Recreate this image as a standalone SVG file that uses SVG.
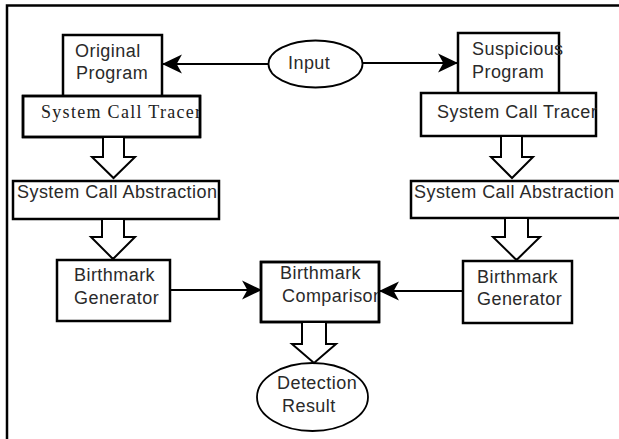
<svg xmlns="http://www.w3.org/2000/svg" width="619" height="439" viewBox="0 0 619 439">
  <style>
    .box { fill: #fff; stroke: #000; stroke-width: 2.5; }
    .oval { fill: #fff; stroke: #000; stroke-width: 1.8; }
    .lbl { font-family: "Liberation Sans", Arial, sans-serif; font-size: 18px; fill: #2a2a2a; letter-spacing: 0.45px; }
    .serif { font-family: "Liberation Serif", "Times New Roman", serif; font-size: 18px; fill: #222; letter-spacing: 1.3px; }
    .link { fill: none; stroke: #000; stroke-width: 1.8; }
    .flow { fill: #fff; stroke: #000; stroke-width: 2; stroke-linejoin: miter; }
  </style>
  <defs>
    <marker id="head" markerUnits="userSpaceOnUse" markerWidth="20" markerHeight="20" viewBox="0 0 19 18" refX="18" refY="9" orient="auto">
      <path d="M0,0 L19,9 L0,18 L5,9 Z" fill="#000"/>
    </marker>
    <clipPath id="clipTracerL"><rect x="24" y="97" width="175" height="39"/></clipPath>
    <clipPath id="clipCompare"><rect x="262" y="263" width="116" height="58"/></clipPath>
  </defs>

  <rect width="619" height="439" fill="#fff"/>
  <!-- page frame (top and left edges) -->
  <path d="M7,439 V5.5 H619" fill="none" stroke="#000" stroke-width="2.5"/>

  <!-- left column -->
  <g id="original-program">
    <rect class="box" x="63" y="35" width="99" height="62"/>
    <text class="lbl" x="75" y="57">Original</text>
    <text class="lbl" x="76" y="79">Program</text>
  </g>
  <g id="tracer-left">
    <rect class="box" x="23" y="96" width="177" height="41"/>
    <text class="serif" x="41" y="118" clip-path="url(#clipTracerL)">System Call Tracer</text>
    <rect x="23" y="96" width="177" height="41" fill="none" stroke="#000" stroke-width="2.5"/>
  </g>
  <g id="abstraction-left">
    <rect class="box" x="13" y="181" width="206" height="38"/>
    <text class="lbl" x="17" y="198">System Call Abstraction</text>
  </g>
  <g id="generator-left">
    <rect class="box" x="57" y="260" width="113" height="61"/>
    <text class="lbl" x="74" y="281">Birthmark</text>
    <text class="lbl" x="74" y="304">Generator</text>
  </g>

  <!-- centre column -->
  <g id="input">
    <ellipse class="oval" cx="315.5" cy="64" rx="47" ry="23.5"/>
    <text class="lbl" x="288" y="69">Input</text>
  </g>
  <g id="comparison">
    <rect class="box" x="261" y="262" width="118" height="60"/>
    <text class="lbl" x="280" y="279" clip-path="url(#clipCompare)">Birthmark</text>
    <text class="lbl" x="282" y="302" clip-path="url(#clipCompare)">Comparison</text>
    <rect x="261" y="262" width="118" height="60" fill="none" stroke="#000" stroke-width="2.5"/>
  </g>
  <g id="detection-result">
    <ellipse class="oval" cx="312.5" cy="397" rx="55.5" ry="34"/>
    <text class="lbl" x="277" y="389">Detection</text>
    <text class="lbl" x="282" y="412">Result</text>
  </g>

  <!-- right column -->
  <g id="suspicious-program">
    <rect class="box" x="458" y="33" width="101" height="61"/>
    <text class="lbl" x="472" y="55">Suspicious</text>
    <text class="lbl" x="472" y="78">Program</text>
  </g>
  <g id="tracer-right">
    <rect class="box" x="421" y="93" width="175" height="43"/>
    <text class="lbl" x="437" y="118">System Call Tracer</text>
  </g>
  <g id="abstraction-right">
    <rect class="box" x="411" y="181" width="215" height="37"/>
    <text class="lbl" x="414" y="198">System Call Abstraction</text>
  </g>
  <g id="generator-right">
    <rect class="box" x="463" y="261" width="109" height="62"/>
    <text class="lbl" x="477" y="283">Birthmark</text>
    <text class="lbl" x="477" y="305">Generator</text>
  </g>

  <!-- connectors -->
  <g id="connectors">
    <line class="link" x1="268.5" y1="64" x2="163" y2="64" marker-end="url(#head)"/>
    <line class="link" x1="362.5" y1="63" x2="457" y2="63" marker-end="url(#head)"/>
    <line class="link" x1="170" y1="290" x2="261" y2="290" marker-end="url(#head)"/>
    <line class="link" x1="463" y1="291" x2="380" y2="291" marker-end="url(#head)"/>

    <!-- hollow block arrows -->
    <path class="flow" d="M103,138 V157 H92 L113.5,178 L135,157 H124 V138"/>
    <path class="flow" d="M102,220 V237 H91 L113,259 L135,237 H124 V220"/>
    <path class="flow" d="M501,137 V157 H491 L512,178 L533,157 H522 V137"/>
    <path class="flow" d="M505,219 V237 H493 L516.5,260 L540,237 H528 V219"/>
    <path class="flow" d="M302,323 V344 H292 L314,363 L336,344 H326 V323"/>
  </g>
</svg>
